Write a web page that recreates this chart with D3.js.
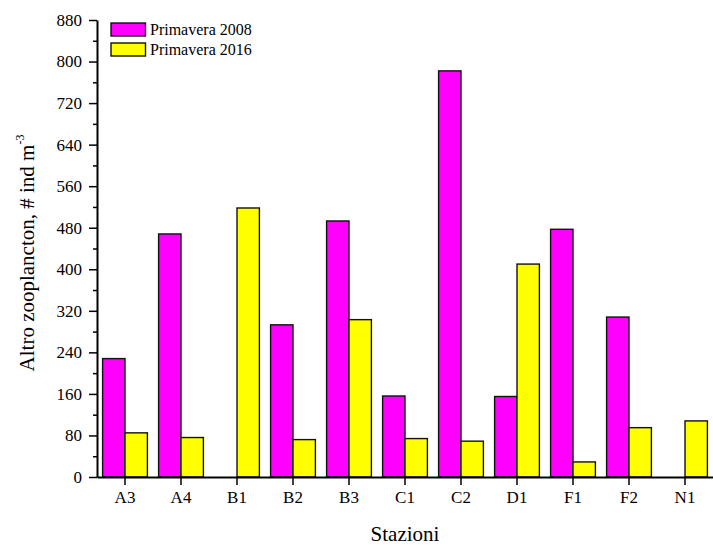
<!DOCTYPE html>
<html>
<head>
<meta charset="utf-8">
<script src="https://cdn.jsdelivr.net/npm/d3@7"></script>
<style>
  html, body { margin: 0; padding: 0; background: #fff; }
  svg text { font-family: "Liberation Serif", "Times New Roman", serif; fill: #000; }
</style>
</head>
<body>
<svg id="chart" width="713" height="548"></svg>
<script>
const categories = ["A3", "A4", "B1", "B2", "B3", "C1", "C2", "D1", "F1", "F2", "N1"];
const seriesNames = ["Primavera 2008", "Primavera 2016"];
const values2008 = [228, 468, 0, 293, 493, 156, 782, 155, 477, 308, 0];
const values2016 = [85, 76, 518, 72, 303, 74, 69, 410, 29, 95, 108];
const yMajorTicks = [0, 80, 160, 240, 320, 400, 480, 560, 640, 720, 800, 880];
const yMinorTicks = [40, 120, 200, 280, 360, 440, 520, 600, 680, 760, 840];
const colors = ["#FF00FF", "#FFFF00"];

const svg = d3.select("#chart");
const pLeft = 97, pRight = 713, pTop = 20, pBottom = 477;

const x = d3.scaleBand().domain(categories).range([pLeft, pRight]).paddingInner(0).paddingOuter(0);
const groupWidth = x.bandwidth() * 0.8;
const xs = d3.scaleBand().domain(seriesNames).range([-groupWidth / 2, groupWidth / 2]);
const y = d3.scaleLinear().domain([0, 880]).range([pBottom, pTop]);

const series = [values2008, values2016];

// bars
series.forEach((vals, si) => {
  svg.append("g")
    .selectAll("rect")
    .data(categories.map((c, i) => ({ c, v: vals[i] })).filter(d => d.v > 0))
    .join("rect")
    .attr("x", d => x(d.c) + x.bandwidth() / 2 + xs(seriesNames[si]))
    .attr("y", d => y(d.v))
    .attr("width", xs.bandwidth())
    .attr("height", d => y(0) - y(d.v))
    .attr("fill", colors[si])
    .attr("stroke", "#111")
    .attr("stroke-width", 1.4);
});

// y axis minor ticks
const yMinor = svg.append("g")
  .attr("transform", `translate(${pLeft},0)`)
  .call(d3.axisLeft(y).tickValues(yMinorTicks).tickSize(4).tickFormat(""));
yMinor.select(".domain").remove();
yMinor.selectAll("line").attr("stroke-width", 1.5);

// y axis major
const yAxis = svg.append("g")
  .attr("transform", `translate(${pLeft},0)`)
  .call(d3.axisLeft(y).tickValues(yMajorTicks).tickSize(8).tickSizeOuter(0).tickPadding(7));
yAxis.select(".domain").attr("stroke-width", 2);
yAxis.selectAll("line").attr("stroke-width", 1.5);
yAxis.selectAll("text")
  .style("font-family", "'Liberation Serif', 'Times New Roman', serif")
  .style("font-size", "17px");

// x axis
const xAxis = svg.append("g")
  .attr("transform", `translate(0,${pBottom})`)
  .call(d3.axisBottom(x).tickSize(8).tickSizeOuter(0).tickPadding(6));
xAxis.select(".domain").attr("stroke-width", 2);
xAxis.selectAll("line").attr("stroke-width", 1.5);
xAxis.selectAll("text")
  .style("font-family", "'Liberation Serif', 'Times New Roman', serif")
  .style("font-size", "17px");

// axis titles
svg.append("text")
  .attr("x", (pLeft + pRight) / 2)
  .attr("y", 541)
  .attr("text-anchor", "middle")
  .style("font-size", "21px")
  .text("Stazioni");

const yt = svg.append("text")
  .attr("transform", "translate(34,253) rotate(-90)")
  .attr("text-anchor", "middle")
  .style("font-size", "21px");
yt.append("tspan").text("Altro zooplancton, # ind m");
yt.append("tspan").attr("dy", -10).style("font-size", "12px").text("-3");

// legend
const legend = svg.append("g");
seriesNames.forEach((name, i) => {
  const gy = 23 + i * 20;
  legend.append("rect")
    .attr("x", 111).attr("y", gy)
    .attr("width", 34.5).attr("height", 13)
    .attr("fill", colors[i])
    .attr("stroke", "#111").attr("stroke-width", 1.4);
  legend.append("text")
    .attr("x", 150).attr("y", gy + 12)
    .style("font-size", "16px")
    .text(name);
});
</script>
</body>
</html>
